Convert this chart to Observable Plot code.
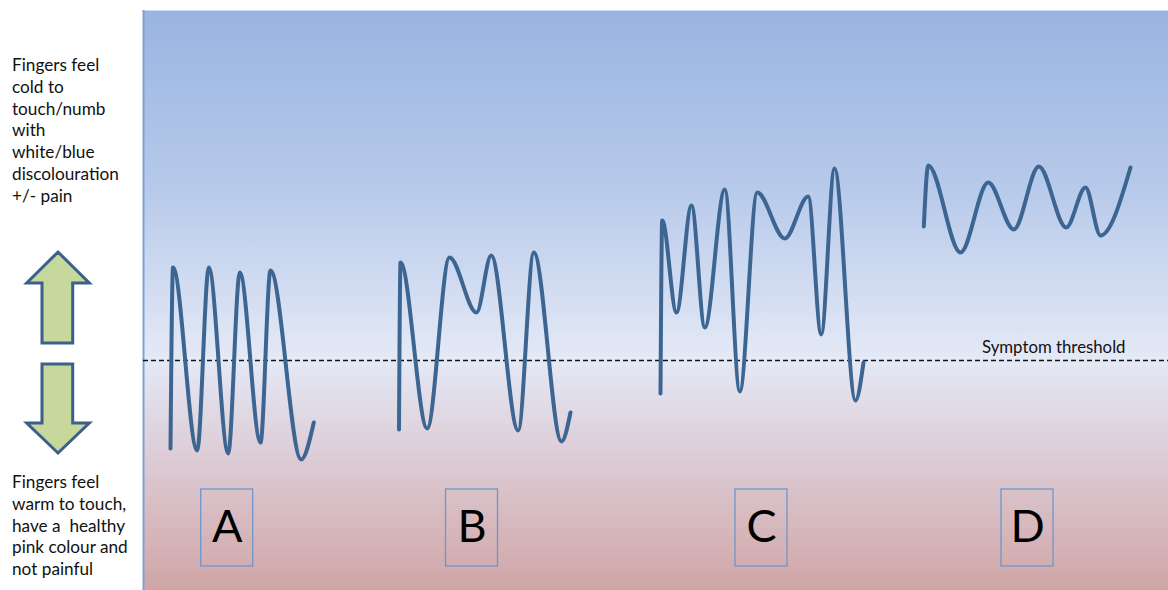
<!DOCTYPE html>
<html>
<head>
<meta charset="utf-8">
<script src="https://cdn.jsdelivr.net/npm/d3@7"></script>
<script src="https://cdn.jsdelivr.net/npm/@observablehq/plot@0.6"></script>
<style>
  html, body { margin: 0; padding: 0; background: #fff; }
  #wrap { position: relative; width: 1168px; height: 590px; overflow: hidden; }
  #chart { position: absolute; left: 0; top: 0; }
  #side { position: absolute; left: 0; top: 0; }
</style>
</head>
<body>
<div id="wrap">
  <div id="chart"></div>
  <svg id="side" width="143" height="590"></svg>
</div>
<script>
// ---- data (x: time units, y: symptom level units) ----
const threshold = 23;
const thresholdLabel = "Symptom threshold";

const waveA = [[2.7,14.2],[2.95,32.3],[5.37,14.0],[6.53,32.3],[8.47,13.7],[9.63,31.8],[11.7,14.8],[12.7,32.0],[15.77,13.1],[17.03,16.8]];
const waveB = [[25.55,16.1],[25.7,32.8],[28.37,16.2],[30.6,33.3],[33.3,27.8],[34.77,33.5],[37.47,16.0],[39.03,33.8],[41.8,14.9],[42.7,17.8]];
const waveC = [[51.7,19.7],[51.87,37.0],[53.3,27.8],[54.8,38.5],[56.13,26.3],[58.13,40.1],[59.63,19.9],[61.37,39.8],[64.13,35.2],[66.47,39.4],[67.77,25.6],[69.1,42.2],[71.2,19.0],[72.0,22.8]];
const waveD = [[78.03,36.4],[78.47,42.5],[81.7,33.8],[84.47,40.8],[87.03,36.1],[89.53,42.4],[92.27,36.3],[94.2,40.3],[95.7,35.5],[98.7,42.3]];

const patternLetters = ["A","B","C","D"];
const patternCenters = [8.37, 32.85, 61.8, 88.4];

const topText = ["Fingers feel","cold to","touch/numb","with","white/blue","discolouration","+/- pain"];
const bottomText = ["Fingers feel","warm to touch,","have a  healthy","pink colour and","not painful"];

// ---- build tables ----
const waves = [["A",waveA],["B",waveB],["C",waveC],["D",waveD]]
  .flatMap(([k, arr]) => arr.map(([t, v]) => ({pattern: k, t, v})));
const labels = patternLetters.map((l, i) => ({letter: l, x: patternCenters[i]}));

const FONT = "Lato, Calibri, 'Open Sans', sans-serif";
const BOX_HALF = 2.6, BOX_Y1 = 2.4, BOX_Y2 = 10.1, LABEL_Y = 6.3;

const plot = Plot.plot({
  width: 1168,
  height: 590,
  marginLeft: 143,
  marginRight: 0,
  marginTop: 10,
  marginBottom: 0,
  x: {domain: [0, 102.5], axis: null},
  y: {domain: [0, 58], axis: null},
  style: {fontFamily: FONT, background: "transparent"},
  marks: [
    Plot.frame({fill: "url(#bgGrad)", stroke: "none"}),
    Plot.ruleX([0], {stroke: "#7ea2d4", strokeWidth: 2}),
    Plot.ruleY([threshold], {stroke: "#111", strokeWidth: 1.5, strokeDasharray: "5,3"}),
    Plot.text([thresholdLabel], {x: 98.2, y: threshold, text: d => d, textAnchor: "end", dy: -13, fontSize: 16.8, fill: "#111"}),
    Plot.line(waves, {x: "t", y: "v", z: "pattern", curve: "monotone-x", stroke: "#3c6592", strokeWidth: 4, strokeLinecap: "round", strokeLinejoin: "round"}),
    Plot.rect(labels, {x1: d => d.x - BOX_HALF, x2: d => d.x + BOX_HALF, y1: BOX_Y1, y2: BOX_Y2, fill: "none", stroke: "#6f96cc", strokeWidth: 1.3}),
    Plot.text(labels, {x: "x", y: LABEL_Y, text: "letter", fontSize: 45, fill: "#000"})
  ]
});

// gradient background definition
const svg = d3.select(plot);
const defs = svg.insert("defs", ":first-child");
const g = defs.append("linearGradient").attr("id", "bgGrad").attr("x1", 0).attr("y1", 0).attr("x2", 0).attr("y2", 1);
[[0, "#9ab4e1"], [0.3, "#b6c9ea"], [0.6, "#e4e9f6"], [0.78, "#dccad3"], [1, "#d0a5a6"]]
  .forEach(([o, c]) => g.append("stop").attr("offset", o).attr("stop-color", c));
document.getElementById("chart").appendChild(plot);

// left side annotation panel
const side = d3.select("#side");
const arrowFill = "#c6d89b", arrowStroke = "#3d5f8b";
const upArrow = [[58,252],[89.3,283],[72.7,283],[72.7,343],[42,343],[42,283],[26.7,283]];
const downArrow = [[58,453],[89.3,423],[72.7,423],[72.7,364],[42,364],[42,423],[26.7,423]];
[upArrow, downArrow].forEach(pts => side.append("polygon")
  .attr("points", pts.map(p => p.join(",")).join(" "))
  .attr("fill", arrowFill).attr("stroke", arrowStroke).attr("stroke-width", 3).attr("stroke-linejoin", "miter"));
const addLines = (lines, y0) => lines.forEach((s, i) => side.append("text")
  .attr("x", 12).attr("y", y0 + i * 21.8).text(s)
  .attr("font-family", FONT).attr("font-size", 17.2).attr("fill", "#111").style("white-space", "pre"));
addLines(topText, 71);
addLines(bottomText, 488);
</script>
</body>
</html>
